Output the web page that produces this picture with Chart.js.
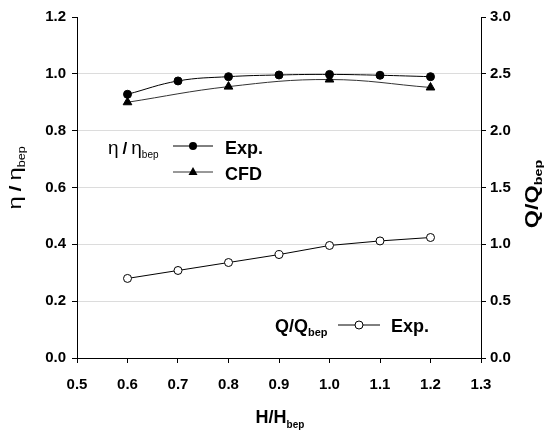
<!DOCTYPE html>
<html>
<head>
<meta charset="utf-8">
<script src="https://cdn.jsdelivr.net/npm/chart.js@4"></script>
<style>
  body { margin: 0; background: #fff; }
  canvas { display: block; }
</style>
</head>
<body>
<canvas id="chart" width="555" height="435"></canvas>
<script>
// data
const hRatio = [0.6, 0.7, 0.8, 0.9, 1.0, 1.1, 1.2];
const effExp = [0.928, 0.975, 0.990, 0.996, 0.998, 0.995, 0.990];
const hCfd = [0.6, 0.8, 1.0, 1.2];
const effCfd = [0.900, 0.955, 0.980, 0.952];
const flowExp = [0.70, 0.77, 0.84, 0.91, 0.99, 1.03, 1.06];

const FONT = '"Liberation Sans", Arial, sans-serif';

function pts(xs, ys) {
  return xs.map((x, i) => ({ x: x, y: ys[i] }));
}

// text made of pieces, some as subscripts
function drawParts(ctx, x, y, parts) {
  let cx = x;
  parts.forEach((p) => {
    ctx.font = p.font;
    ctx.fillText(p.t, cx, y + (p.dy || 0));
    cx += ctx.measureText(p.t).width + (p.gap || 0);
  });
}

function partsWidth(ctx, parts) {
  let w = 0;
  parts.forEach((p) => {
    ctx.font = p.font;
    w += ctx.measureText(p.t).width + (p.gap || 0);
  });
  return w;
}

const etaParts = [
  { t: "η", font: "19px " + FONT, gap: 4 },
  { t: "/", font: "bold 17px " + FONT, gap: 4 },
  { t: "η", font: "19px " + FONT },
  { t: "bep", font: "10px " + FONT, dy: 4 },
];
const qParts = [
  { t: "Q/Q", font: "bold 18px " + FONT },
  { t: "bep", font: "bold 11px " + FONT, dy: 4 },
];
const hParts = [
  { t: "H/H", font: "bold 18px " + FONT },
  { t: "bep", font: "bold 10px " + FONT, dy: 5 },
];

function legendLine(ctx, x1, x2, y, color, marker) {
  ctx.save();
  ctx.strokeStyle = color;
  ctx.lineWidth = 1;
  ctx.beginPath();
  ctx.moveTo(x1, y);
  ctx.lineTo(x2, y);
  ctx.stroke();
  const mx = (x1 + x2) / 2;
  ctx.fillStyle = "#000";
  ctx.strokeStyle = "#000";
  ctx.beginPath();
  if (marker === "tri") {
    ctx.moveTo(mx, y - 5);
    ctx.lineTo(mx + 4.5, y + 3);
    ctx.lineTo(mx - 4.5, y + 3);
    ctx.closePath();
    ctx.fill();
  } else {
    ctx.arc(mx, y, 4, 0, Math.PI * 2);
    if (marker === "open") {
      ctx.fillStyle = "#fff";
      ctx.fill();
      ctx.stroke();
    } else {
      ctx.fill();
    }
  }
  ctx.restore();
}

// rotated axis title, stretched a little along its length like the original
function sideTitle(ctx, cx, cy, parts, stretch) {
  ctx.save();
  ctx.translate(cx, cy);
  ctx.rotate(-Math.PI / 2);
  ctx.scale(stretch, 1);
  const w = partsWidth(ctx, parts);
  drawParts(ctx, -w / 2, 0, parts);
  ctx.restore();
}

const labelsPlugin = {
  id: "labels",
  afterDraw(chart) {
    const ctx = chart.ctx;
    ctx.save();
    ctx.fillStyle = "#000";
    ctx.textBaseline = "alphabetic";
    ctx.textAlign = "left";

    // legend, efficiency
    drawParts(ctx, 108, 154, etaParts);
    legendLine(ctx, 173, 213, 146, "#000", "dot");
    ctx.font = "bold 18px " + FONT;
    ctx.fillText("Exp.", 225, 154);
    legendLine(ctx, 173, 213, 172, "#333", "tri");
    ctx.font = "bold 18px " + FONT;
    ctx.fillText("CFD", 225, 180);

    // legend, flow
    drawParts(ctx, 275, 332, qParts);
    legendLine(ctx, 338, 380, 325, "#000", "open");
    ctx.font = "bold 18px " + FONT;
    ctx.fillText("Exp.", 391, 332);

    // x axis title
    const hw = partsWidth(ctx, hParts);
    drawParts(ctx, 280 - hw / 2, 423, hParts);

    sideTitle(ctx, 21, 178, etaParts, 1.25);
    sideTitle(ctx, 538, 194, qParts, 1.3);

    ctx.restore();
  },
};

const tickFont = { family: FONT, size: 15, weight: "bold" };

new Chart(document.getElementById("chart"), {
  type: "line",
  data: {
    datasets: [
      {
        label: "Exp.",
        data: pts(hRatio, effExp),
        yAxisID: "y",
        borderColor: "#000",
        borderWidth: 1,
        backgroundColor: "#000",
        pointRadius: 4,
        pointStyle: "circle",
        tension: 0.4,
      },
      {
        label: "CFD",
        data: pts(hCfd, effCfd),
        yAxisID: "y",
        borderColor: "#333",
        borderWidth: 1,
        backgroundColor: "#000",
        pointBorderColor: "#000",
        pointRadius: 5,
        pointStyle: "triangle",
        tension: 0.4,
      },
      {
        label: "Q Exp.",
        data: pts(hRatio, flowExp),
        yAxisID: "y2",
        borderColor: "#000",
        borderWidth: 1,
        backgroundColor: "#fff",
        pointBorderColor: "#000",
        pointBorderWidth: 1,
        pointRadius: 4,
        pointStyle: "circle",
        tension: 0,
      },
    ],
  },
  options: {
    responsive: false,
    animation: false,
    layout: { padding: { top: 17, left: 0, right: 0, bottom: 0 } },
    plugins: {
      legend: { display: false },
      tooltip: { enabled: false },
    },
    scales: {
      x: {
        type: "linear",
        min: 0.5,
        max: 1.3,
        afterFit: (s) => { s.height = 77; },
        ticks: {
          stepSize: 0.1,
          color: "#000",
          font: tickFont,
          padding: 13,
          callback: (v) => v.toFixed(1),
        },
        grid: {
          drawOnChartArea: false,
          tickLength: 5,
          tickColor: "#000",
        },
        border: { color: "#000", width: 1 },
      },
      y: {
        position: "left",
        min: 0,
        max: 1.2,
        afterFit: (s) => { s.width = 77; },
        ticks: {
          stepSize: 0.2,
          color: "#000",
          font: tickFont,
          padding: 6,
          callback: (v) => v.toFixed(1),
        },
        grid: {
          color: (c) => (c.tick && (c.tick.value <= 0 || c.tick.value >= 1.2) ? "rgba(0,0,0,0)" : "#dcdcdc"),
          tickLength: 5,
          tickColor: "#000",
        },
        border: { color: "#000", width: 1 },
      },
      y2: {
        position: "right",
        min: 0,
        max: 3,
        afterFit: (s) => { s.width = 74; },
        ticks: {
          stepSize: 0.5,
          color: "#000",
          font: tickFont,
          padding: 4,
          callback: (v) => v.toFixed(1),
        },
        grid: {
          drawOnChartArea: false,
          tickLength: 5,
          tickColor: "#000",
        },
        border: { color: "#000", width: 1 },
      },
    },
  },
  plugins: [labelsPlugin],
});
</script>
</body>
</html>
